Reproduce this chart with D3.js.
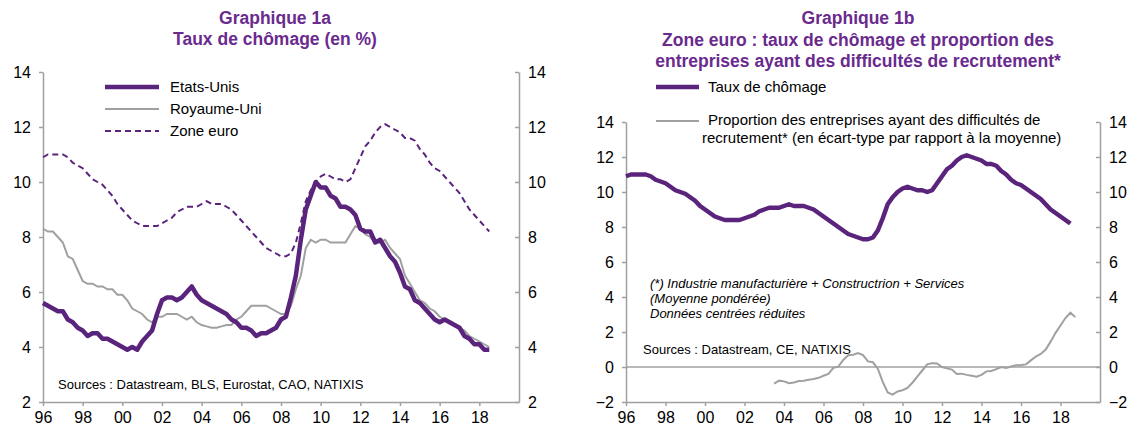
<!DOCTYPE html>
<html lang="fr">
<head>
<meta charset="UTF-8">
<title>Taux de chômage</title>
<script src="https://cdn.jsdelivr.net/npm/d3@7"></script>
<style>
  body { margin: 0; background: #fff; }
  svg { display: block; font-family: "Liberation Sans", Arial, sans-serif; }
  .title { font-weight: bold; font-size: 17.5px; fill: #6a2a8e; text-anchor: middle; }
  .axis path, .axis line { stroke: #a0a0a0; stroke-width: 1.5; }
  .axis text { font-size: 16px; fill: #000; }
  .legend text { font-size: 15px; fill: #000; }
  .note { font-size: 13px; fill: #000; }
</style>
</head>
<body>
<svg id="chart" width="1133" height="429"></svg>
<script>
// quarterly dates, 1996 Q1 -> 2018 Q3
const quarters = d3.range(91).map(i => 1996 + i * 0.25);
const propQuarters = d3.range(62).map(i => 2003.5 + i * 0.25);

const etatsUnis = [
  5.6, 5.5, 5.4, 5.3,  5.3, 5.0, 4.9, 4.7,  4.6, 4.4, 4.5, 4.5,  4.3, 4.3, 4.2, 4.1,
  4.0, 3.9, 4.0, 3.9,  4.2, 4.4, 4.6, 5.2,  5.7, 5.8, 5.8, 5.7,  5.8, 6.0, 6.2, 5.9,
  5.7, 5.6, 5.5, 5.4,  5.3, 5.2, 5.0, 4.9,  4.7, 4.7, 4.6, 4.4,  4.5, 4.5, 4.6, 4.7,
  5.0, 5.1, 5.8, 6.6,  7.9, 9.0, 9.5, 10.0, 9.8, 9.8, 9.5, 9.4,  9.1, 9.1, 9.0, 8.8,
  8.3, 8.2, 8.2, 7.8,  7.9, 7.6, 7.3, 7.1,  6.7, 6.2, 6.1, 5.7,  5.6, 5.4, 5.2, 5.0,
  4.9, 5.0, 4.9, 4.8,  4.7, 4.4, 4.3, 4.1,  4.1, 3.9, 3.9
];
const royaumeUni = [
  8.3, 8.2, 8.2, 8.0,  7.8, 7.3, 7.2, 6.8,  6.4, 6.3, 6.3, 6.2,  6.2, 6.1, 6.1, 5.9,
  5.9, 5.7, 5.4, 5.3,  5.2, 5.0, 4.9, 5.1,  5.1, 5.2, 5.2, 5.2,  5.1, 5.0, 5.1, 4.9,
  4.8, 4.75, 4.7, 4.7, 4.75, 4.8, 4.8, 5.0, 5.1, 5.3, 5.5, 5.5,  5.5, 5.5, 5.4, 5.3,
  5.2, 5.2, 5.5, 6.1,  6.6, 7.6, 7.9, 7.8,  7.9, 7.9, 7.8, 7.8,  7.8, 7.8, 8.1, 8.4,
  8.3, 8.1, 8.0, 7.8,  7.8, 7.9, 7.6, 7.4,  7.2, 6.6, 6.3, 6.0,  5.7, 5.6, 5.4, 5.3,
  5.1, 5.0, 4.9, 4.8,  4.7, 4.6, 4.4, 4.3,  4.2, 4.1, 4.0
];
const zoneEuro = [
  10.9, 11.0, 11.0, 11.0, 11.0, 10.9, 10.7, 10.6, 10.5, 10.3, 10.1, 10.0, 9.9, 9.7, 9.5, 9.2,
  9.0, 8.8, 8.6, 8.5,  8.4, 8.4, 8.4, 8.4,  8.5, 8.6, 8.7, 8.9,  9.0, 9.1, 9.1, 9.1,
  9.2, 9.3, 9.2, 9.2,  9.2, 9.1, 9.0, 8.8,  8.6, 8.4, 8.2, 8.0,  7.8, 7.6, 7.5, 7.4,
  7.3, 7.3, 7.4, 7.8,  8.5, 9.3, 9.7, 10.0, 10.2, 10.3, 10.2, 10.1, 10.1, 10.0, 10.1, 10.5,
  10.9, 11.3, 11.5, 11.8, 12.0, 12.1, 12.0, 11.9, 11.8, 11.6, 11.6, 11.5, 11.2, 11.0, 10.7, 10.5,
  10.4, 10.2, 10.0, 9.8, 9.6, 9.3, 9.0, 8.8,  8.6, 8.4, 8.2
];
// Proportion des entreprises ayant des difficultés de recrutement (écart-type), 2003 Q3 -> 2018 Q4
const difficultes = [
  -0.95, -0.78, -0.82, -0.93, -0.88, -0.8, -0.78, -0.73, -0.68, -0.62,
  -0.5, -0.4, -0.05, 0.02, 0.4, 0.67, 0.7, 0.8, 0.68, 0.32,
  0.27, -0.1, -0.85, -1.45, -1.58, -1.4, -1.33, -1.2, -0.9, -0.55,
  -0.2, 0.15, 0.22, 0.2, 0.0, -0.08, -0.15, -0.4, -0.38, -0.45,
  -0.5, -0.55, -0.45, -0.25, -0.23, -0.12, 0.0, -0.06, 0.03, 0.1,
  0.12, 0.15, 0.38, 0.6, 0.75, 1.0, 1.45, 1.95, 2.37, 2.8,
  3.1, 2.85
];
const yearTicks = d3.range(1996, 2019, 2);
const ticksA = [2, 4, 6, 8, 10, 12, 14];
const ticksB = [-2, 0, 2, 4, 6, 8, 10, 12, 14];

const purple = "#5a237c";
const grey = "#a0a0a0";

const svg = d3.select("#chart");
const fmtYear = d => String(d % 100).padStart(2, "0");

function drawAxes(g, x, y, ticks) {
  const [x0, x1] = x.range();
  g.append("g").attr("class", "axis")
    .attr("transform", `translate(0,${y.range()[0]})`)
    .call(d3.axisBottom(x).tickValues(yearTicks).tickFormat(fmtYear)
      .tickSize(4).tickPadding(6).tickSizeOuter(0));
  g.append("g").attr("class", "axis")
    .attr("transform", `translate(${x0},0)`)
    .call(d3.axisLeft(y).tickValues(ticks).tickSize(4).tickPadding(8).tickSizeOuter(0));
  g.append("g").attr("class", "axis")
    .attr("transform", `translate(${x1},0)`)
    .call(d3.axisRight(y).tickValues(ticks).tickSize(-4).tickPadding(9).tickSizeOuter(0));
}

// ---------- Graphique 1a ----------
const xA = d3.scaleLinear().domain([1996, 2020]).range([43, 519]);
const yA = d3.scaleLinear().domain([2, 14]).range([402, 72]);
const gA = svg.append("g");

gA.append("text").attr("class", "title").attr("x", 275).attr("y", 24).text("Graphique 1a");
gA.append("text").attr("class", "title").attr("x", 275).attr("y", 45).text("Taux de chômage (en %)");

drawAxes(gA, xA, yA, ticksA);

const lineA = d3.line().x((d, i) => xA(quarters[i])).y(d => yA(d));

gA.append("path").datum(royaumeUni).attr("d", lineA)
  .attr("fill", "none").attr("stroke", grey).attr("stroke-width", 2);
gA.append("path").datum(zoneEuro).attr("d", lineA)
  .attr("fill", "none").attr("stroke", purple).attr("stroke-width", 2)
  .attr("stroke-dasharray", "6,4");
gA.append("path").datum(etatsUnis).attr("d", lineA)
  .attr("fill", "none").attr("stroke", purple).attr("stroke-width", 4.5)
  .attr("stroke-linejoin", "round");

const legA = gA.append("g").attr("class", "legend");
const legendA = [
  { name: "Etats-Unis", color: purple, width: 4.5, dash: null, y: 87 },
  { name: "Royaume-Uni", color: grey, width: 2, dash: null, y: 109 },
  { name: "Zone euro", color: purple, width: 2, dash: "6,4", y: 131 }
];
legendA.forEach(s => {
  legA.append("line").attr("x1", 105).attr("x2", 159).attr("y1", s.y).attr("y2", s.y)
    .attr("stroke", s.color).attr("stroke-width", s.width).attr("stroke-dasharray", s.dash);
  legA.append("text").attr("x", 170).attr("y", s.y).attr("dy", "0.35em").text(s.name);
});

gA.append("text").attr("class", "note").attr("x", 58).attr("y", 384).attr("dy", "0.35em")
  .text("Sources : Datastream, BLS, Eurostat, CAO, NATIXIS");

// ---------- Graphique 1b ----------
const xB = d3.scaleLinear().domain([1996, 2020]).range([626, 1100]);
const yB = d3.scaleLinear().domain([-2, 14]).range([402, 122]);
const gB = svg.append("g");

gB.append("text").attr("class", "title").attr("x", 858).attr("y", 24).text("Graphique 1b");
gB.append("text").attr("class", "title").attr("x", 858).attr("y", 46)
  .text("Zone euro : taux de chômage et proportion des");
gB.append("text").attr("class", "title").attr("x", 858).attr("y", 67)
  .text("entreprises ayant des difficultés de recrutement*");

drawAxes(gB, xB, yB, ticksB);

gB.append("line").attr("x1", xB(1996)).attr("x2", xB(2020))
  .attr("y1", yB(0)).attr("y2", yB(0)).attr("stroke", grey).attr("stroke-width", 1.5);

gB.append("path").datum(difficultes)
  .attr("d", d3.line().x((d, i) => xB(propQuarters[i])).y(d => yB(d)))
  .attr("fill", "none").attr("stroke", grey).attr("stroke-width", 2);
gB.append("path").datum(zoneEuro)
  .attr("d", d3.line().x((d, i) => xB(quarters[i])).y(d => yB(d)))
  .attr("fill", "none").attr("stroke", purple).attr("stroke-width", 4.5)
  .attr("stroke-linejoin", "round");

const legB = gB.append("g").attr("class", "legend");
legB.append("line").attr("x1", 656).attr("x2", 699).attr("y1", 87).attr("y2", 87)
  .attr("stroke", purple).attr("stroke-width", 4.5);
legB.append("text").attr("x", 708).attr("y", 87).attr("dy", "0.35em").text("Taux de chômage");
legB.append("line").attr("x1", 656).attr("x2", 699).attr("y1", 121).attr("y2", 121)
  .attr("stroke", grey).attr("stroke-width", 2);
legB.append("text").attr("x", 708).attr("y", 120).attr("dy", "0.35em")
  .text("Proportion des entreprises ayant des difficultés de");
legB.append("text").attr("x", 702).attr("y", 138).attr("dy", "0.35em")
  .text("recrutement* (en écart-type par rapport à la moyenne)");

const notes = ["(*) Industrie manufacturière + Constructrion + Services",
  "(Moyenne pondérée)", "Données centrées réduites"];
notes.forEach((t, i) => {
  gB.append("text").attr("class", "note").attr("x", 650).attr("y", 283 + i * 15)
    .attr("dy", "0.35em").attr("font-style", "italic").text(t);
});
gB.append("text").attr("class", "note").attr("x", 643).attr("y", 349).attr("dy", "0.35em")
  .text("Sources : Datastream, CE, NATIXIS");
</script>
</body>
</html>
